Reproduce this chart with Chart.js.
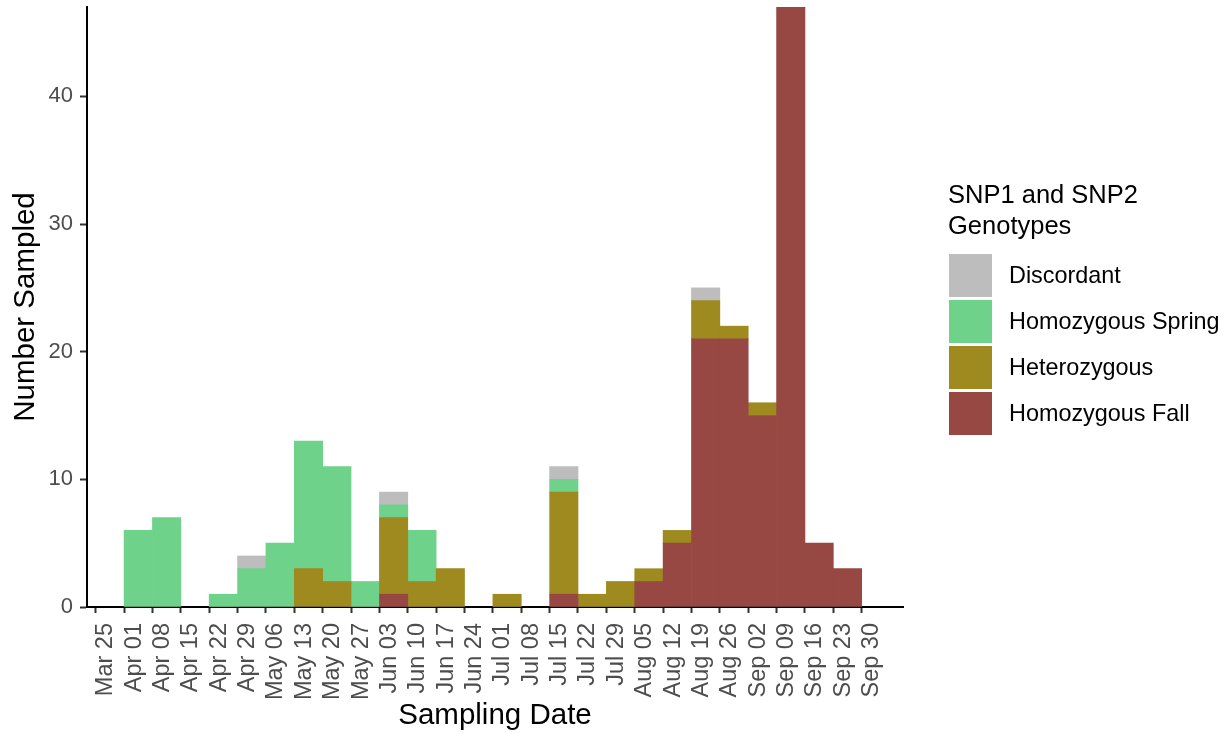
<!DOCTYPE html>
<html>
<head>
<meta charset="utf-8">
<script src="https://cdn.jsdelivr.net/npm/chart.js@4"></script>
<style>
  html, body { margin: 0; padding: 0; background: #ffffff; }
  #wrap { position: relative; width: 1226px; height: 734px; font-family: "Liberation Sans", Arial, sans-serif; }
  canvas { position: absolute; left: 0; top: 0; }
  .lg-title { position: absolute; left: 948px; top: 179px; font-size: 25.5px; line-height: 31px; color: #000; white-space: nowrap; }
  .lg-key { position: absolute; left: 949px; width: 43px; height: 43px; }
  .lg-text { position: absolute; left: 1009px; height: 43px; line-height: 43px; font-size: 23.4px; color: #000; white-space: nowrap; }
</style>
</head>
<body>
<div id="wrap">
  <canvas id="c" width="1226" height="734"></canvas>
  <div id="legend"></div>
</div>
<script>
// Week labels (tick labels on the x axis, one per weekly bin edge)
const weekLabels = ['Mar 25','Apr 01','Apr 08','Apr 15','Apr 22','Apr 29','May 06','May 13','May 20','May 27',
  'Jun 03','Jun 10','Jun 17','Jun 24','Jul 01','Jul 08','Jul 15','Jul 22','Jul 29','Aug 05','Aug 12',
  'Aug 19','Aug 26','Sep 02','Sep 09','Sep 16','Sep 23','Sep 30'];

// Counts per weekly bin (bin starts at Mar 25 ... Sep 23)
const homozygousFall   = [0,0,0,0,0,0,0,0,0,0,1,0,0,0,0,0,1,0,0,2,5,21,21,15,47,5,3];
const heterozygous     = [0,0,0,0,0,0,0,3,2,0,6,2,3,0,1,0,8,1,2,1,1,3,1,1,0,0,0];
const homozygousSpring = [0,6,7,0,1,3,5,10,9,2,1,4,0,0,0,0,1,0,0,0,0,0,0,0,0,0,0];
const discordant       = [0,0,0,0,0,1,0,0,0,0,1,0,0,0,0,0,1,0,0,0,0,1,0,0,0,0,0];

const yTicks = [0, 10, 20, 30, 40];
const legendTitle = ['SNP1 and SNP2', 'Genotypes'];

const colors = {
  fall: '#984842',
  het: '#9E8A1E',
  spring: '#6ED28A',
  disc: '#BDBDBD'
};

// bin centre in "weeks since Mar 25" units; empty bins are not drawn
function toPoints(arr) { return arr.map((v, i) => ({ x: i + 0.5, y: v === 0 ? null : v })); }

const datasets = [
  { label: 'Homozygous Fall', data: toPoints(homozygousFall), backgroundColor: colors.fall },
  { label: 'Heterozygous', data: toPoints(heterozygous), backgroundColor: colors.het },
  { label: 'Homozygous Spring', data: toPoints(homozygousSpring), backgroundColor: colors.spring },
  { label: 'Discordant', data: toPoints(discordant), backgroundColor: colors.disc }
].map(d => Object.assign(d, { borderWidth: 0, barPercentage: 1, categoryPercentage: 1 }));

const FONT = '"Liberation Sans", Arial, sans-serif';

new Chart(document.getElementById('c'), {
  type: 'bar',
  data: { datasets },
  options: {
    responsive: false,
    animation: false,
    devicePixelRatio: 1,
    layout: { padding: { top: 7, right: 323, left: 0, bottom: 0 } },
    plugins: { legend: { display: false }, tooltip: { enabled: false } },
    scales: {
      x: {
        type: 'linear',
        stacked: true,
        offset: false,
        min: -0.307,
        max: 28.456,
        grid: { display: true, offset: false, drawOnChartArea: false, drawTicks: true, tickLength: 6, tickColor: '#333333', tickWidth: 2 },
        border: { display: true, color: '#000000', width: 2 },
        ticks: {
          autoSkip: false, minRotation: 90, maxRotation: 90, padding: 10, labelOffset: 10,
          color: '#4D4D4D', font: { family: FONT, size: 23.5 },
          callback: (v) => weekLabels[Math.round(v)] ?? ''
        },
        afterBuildTicks: (s) => { s.ticks = weekLabels.map((_, i) => ({ value: i })); },
        afterFit: (s) => { s.height = 127; s.paddingLeft = 0; s.paddingRight = 0; },
        title: { display: true, text: 'Sampling Date', color: '#000', font: { family: FONT, size: 29.5 }, padding: { top: 0, bottom: 0 } }
      },
      y: {
        type: 'linear',
        stacked: true,
        min: 0,
        max: 47,
        grid: { display: true, drawOnChartArea: false, drawTicks: true, tickLength: 7, tickColor: '#333333', tickWidth: 2 },
        border: { display: true, color: '#000000', width: 2 },
        ticks: { padding: 7, color: '#4D4D4D', font: { family: FONT, size: 22 } },
        afterBuildTicks: (s) => { s.ticks = yTicks.map(v => ({ value: v })); },
        afterFit: (s) => { s.width = 87; s.paddingTop = 0; s.paddingBottom = 0; },
        title: { display: true, text: 'Number Sampled', color: '#000', font: { family: FONT, size: 29.5 }, padding: { top: 8, bottom: 0 } }
      }
    }
  }
});

// Legend (HTML text), keys in ggplot order
const legendItems = [
  { label: 'Discordant', color: colors.disc },
  { label: 'Homozygous Spring', color: colors.spring },
  { label: 'Heterozygous', color: colors.het },
  { label: 'Homozygous Fall', color: colors.fall }
];
const lg = document.getElementById('legend');
const t = document.createElement('div');
t.className = 'lg-title';
t.innerHTML = legendTitle.join('<br>');
lg.appendChild(t);
legendItems.forEach((it, i) => {
  const top = 254 + i * 46;
  const k = document.createElement('div');
  k.className = 'lg-key'; k.style.top = top + 'px'; k.style.background = it.color;
  lg.appendChild(k);
  const tx = document.createElement('div');
  tx.className = 'lg-text'; tx.style.top = top + 'px'; tx.textContent = it.label;
  lg.appendChild(tx);
});
</script>
</body>
</html>
